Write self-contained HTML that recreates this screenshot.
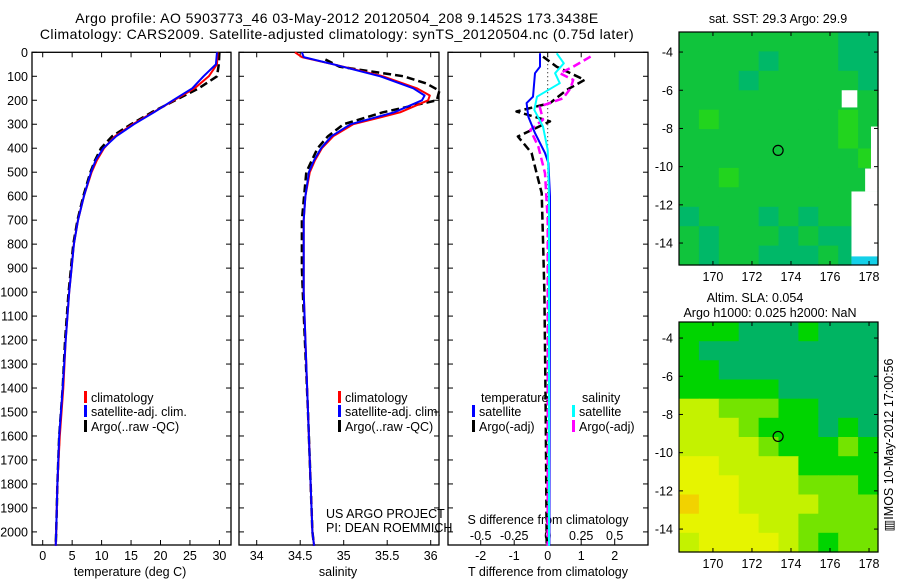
<!DOCTYPE html>
<html><head><meta charset="utf-8"><style>
body{margin:0;background:#fff}
svg{display:block;font-family:"Liberation Sans",Arial,sans-serif}
</style></head><body>
<svg id="c" width="900" height="580" viewBox="0 0 900 580">
<text x="337" y="23" font-size="14" letter-spacing="0.45" text-anchor="middle">Argo profile: AO 5903773_46 03-May-2012 20120504_208 9.1452S 173.3438E</text>
<text x="337" y="39" font-size="14" letter-spacing="0.45" text-anchor="middle">Climatology: CARS2009. Satellite-adjusted climatology: synTS_20120504.nc (0.75d later)</text>
<g id="g"></g>
</svg>
<script>
// ---- profile data ----
const depthT = [0,50,100,150,200,250,300,350,400,450,500,600,700,800,900,1000,1200,1400,1600,1800,2000,2058];
const tempClim = [29.7,29.6,28.2,25.8,22.3,18.8,15.3,12.3,10.4,9.2,8.3,7.0,6.0,5.3,4.9,4.5,3.9,3.5,2.9,2.5,2.3,2.2];
const tempSat  = [29.6,29.4,27.3,25.4,22.1,18.9,15.5,12.5,10.3,9.0,8.2,7.0,6.0,5.3,4.9,4.5,3.9,3.4,2.8,2.5,2.3,2.2];
const tempArgo = [30.0,29.9,29.6,26.5,22.5,18.5,15.0,11.8,9.9,8.9,8.1,6.9,5.9,5.2,4.8,4.4,3.8,3.4,2.8,2.5,2.3,2.2];
const depthS = [0,20,50,100,150,180,200,250,300,350,400,450,500,600,700,1000,1500,2000,2058];
const salClim = [34.44,34.52,34.88,35.45,35.84,35.99,35.97,35.65,35.11,34.88,34.75,34.67,34.61,34.56,34.54,34.54,34.59,34.64,34.66];
const salSat  = [34.52,34.54,34.88,35.42,35.80,35.93,35.90,35.58,35.08,34.86,34.74,34.66,34.60,34.56,34.54,34.54,34.59,34.64,34.66];
const depthSA = [30,60,100,130,160,200,250,300,350,400,500,700,900,1000,1500,2000,2058];
const salArgo = [34.79,34.95,35.69,35.95,36.10,36.07,35.45,35.00,34.82,34.70,34.57,34.52,34.52,34.53,34.59,34.64,34.66];
// ---- difference data ----
const depthDT = [4,60,87,185,212,268,337,420,462,600,1000,1500,2058];
const dTsat = [-0.23,-0.23,-0.38,-0.44,-0.63,-0.58,-0.38,-0.08,0.02,0.07,0.07,0.06,0.05];
const depthDS = [4,46,87,129,185,240,310,407,600,1000,1500,2058];
const dSsat = [0.067,0.12,0.055,0.09,-0.08,-0.1,-0.035,0,0.01,0.01,0.01,0.01];
const depthDTA = [18,60,115,157,212,247,288,351,420,504,587,782,1004,1500,2058];
const dTargo = [-0.14,0.27,1.1,0.57,0.07,-0.93,0.07,-0.89,-0.48,-0.33,-0.18,-0.14,-0.1,-0.06,-0.03];
const depthDSA = [18,60,87,115,150,192,226,281,323,393,504,700,1000,2058];
const dSargo = [0.32,0.19,0.09,0.19,0.17,0.115,-0.06,-0.035,-0.13,-0.07,-0.02,0,0,0];
// ---- ticks ----
const depthTicks = [0,100,200,300,400,500,600,700,800,900,1000,1100,1200,1300,1400,1500,1600,1700,1800,1900,2000];
const tempTicks = [0,5,10,15,20,25,30];
const salTicks = [34,34.5,35,35.5,36];
const dTTicks = [-2,-1,0,1,2];
const dSTicks = [-0.5,-0.25,0,0.25,0.5];
const lonTicks = [170,172,174,176,178];
const latTicks = [-4,-6,-8,-10,-12,-14];
// ---- maps (rows from north to south, cols west to east) ----
const sstGrid = [
[1,1,1,1,1,1,1,1,0,0],[1,1,1,1,0,1,1,1,0,0],[1,1,1,0,1,1,1,1,1,0],[1,1,1,1,1,1,1,1,1,1],
[1,2,1,1,1,1,1,1,2,1],[1,1,1,1,1,1,1,1,2,1],[1,1,1,1,1,1,1,1,1,2],[1,1,2,1,1,1,1,1,1,1],
[1,1,1,1,1,1,1,1,1,1],[0,1,1,1,0,1,0,1,1,1],[1,0,1,1,1,0,1,0,0,1],[1,0,1,1,0,0,0,1,0,1]];
const slaGrid = [
[1,1,1,0,0,0,1,0,0,0],[1,0,0,0,0,0,0,0,0,0],[1,1,0,0,0,0,0,0,0,0],[1,1,1,1,1,0,0,0,0,0],
[3,3,2,2,2,1,1,0,0,0],[3,3,3,2,1,1,1,0,1,0],[3,3,3,3,2,1,1,1,2,1],[4,4,3,3,3,3,1,1,1,1],
[4,4,4,3,3,3,2,2,2,1],[5,4,4,3,3,3,3,2,2,2],[4,4,4,4,3,3,2,2,2,2],[3,4,4,4,4,3,2,1,2,2]];
const sstColors = ['#00b868','#10c43c','#22d41e'];
const slaColors = ['#00b462','#00d400','#74e400','#c4f200','#e6f400','#f2d200'];

const NS='http://www.w3.org/2000/svg', G=document.getElementById('g');
function mk(t,a,p){const e=document.createElementNS(NS,t);for(const k in a)e.setAttribute(k,a[k]);(p||G).appendChild(e);return e;}
function txt(x,y,s,anchor,size,name){const e=mk('text',{x:x,y:y,'font-size':size||12.5,'text-anchor':anchor||'middle'});e.textContent=s;


return e;}
const yD=d=>52.3+d*0.2398;
const xT=t=>42.7+t*5.89, xS=s=>256.7+(s-34)*87, xdT=v=>547.7+v*33.5, xdS=v=>547.7+v*134;
const TOP=52.3, BOT=545;
function frame(x0,x1,name){const r=mk('rect',{x:x0,y:TOP,width:x1-x0,height:BOT-TOP,fill:'none',stroke:'#000','stroke-width':1.3});


depthTicks.forEach(d=>{mk('line',{x1:x0,x2:x0+5,y1:yD(d),y2:yD(d),stroke:'#000'});mk('line',{x1:x1-5,x2:x1,y1:yD(d),y2:yD(d),stroke:'#000'});});}
function line(xs,ds,fx,col,w,dash,name){const pts=xs.map((v,i)=>fx(v).toFixed(1)+','+yD(ds[i]).toFixed(1)).join(' ');
const a={points:pts,fill:'none',stroke:col,'stroke-width':w,'stroke-linejoin':'round'};if(dash)a['stroke-dasharray']=dash;
const e=mk('polyline',a);

}
function legend(x,y,col,label,name){mk('rect',{x:x,y:y-11,width:3,height:12,fill:col});txt(x+7,y,label,'start',12.5,name);}

// Panel 1
frame(32,231,'temperature-panel');
depthTicks.forEach(d=>txt(28,yD(d)+4.5,String(d),'end',12.5,'depth-tick-label'));
tempTicks.forEach(t=>{mk('line',{x1:xT(t),x2:xT(t),y1:TOP,y2:TOP+5,stroke:'#000'});mk('line',{x1:xT(t),x2:xT(t),y1:BOT-5,y2:BOT,stroke:'#000'});txt(xT(t),560,String(t),'middle',12.5,'temperature-tick-label');});
txt(130,576,'temperature (deg C)','middle',12.5,'temperature-axis-title');
line(tempArgo,depthT,xT,'#000',2.5,'8,4','temperature-argo-line');
line(tempClim,depthT,xT,'#f00',2,null,'temperature-climatology-line');
line(tempSat,depthT,xT,'#00f',2,null,'temperature-satellite-line');
legend(84,402,'#f00','climatology','legend-climatology');legend(84,416,'#00f','satellite-adj. clim.','legend-satellite-adj');legend(84,431,'#000','Argo(..raw -QC)','legend-argo');

// Panel 2
frame(239,439,'salinity-panel');
salTicks.forEach(s=>{mk('line',{x1:xS(s),x2:xS(s),y1:TOP,y2:TOP+5,stroke:'#000'});mk('line',{x1:xS(s),x2:xS(s),y1:BOT-5,y2:BOT,stroke:'#000'});txt(xS(s),560,String(s),'middle',12.5,'salinity-tick-label');});
txt(338,576,'salinity','middle',12.5,'salinity-axis-title');
line(salArgo,depthSA,xS,'#000',2.5,'8,4','salinity-argo-line');
line(salClim,depthS,xS,'#f00',2,null,'salinity-climatology-line');
line(salSat,depthS,xS,'#00f',2,null,'salinity-satellite-line');
legend(338,402,'#f00','climatology','legend-climatology');legend(338,416,'#00f','satellite-adj. clim.','legend-satellite-adj');legend(338,431,'#000','Argo(..raw -QC)','legend-argo');
txt(326,518,'US ARGO PROJECT','start',12.5,'credit-project');txt(326,532,'PI: DEAN ROEMMICH','start',12.5,'credit-pi');

// Panel 3
frame(448,648,'difference-panel');
dTTicks.forEach(v=>{mk('line',{x1:xdT(v),x2:xdT(v),y1:TOP,y2:TOP+5,stroke:'#000'});mk('line',{x1:xdT(v),x2:xdT(v),y1:BOT-5,y2:BOT,stroke:'#000'});txt(xdT(v),560,String(v),'middle',12.5,'t-diff-tick-label');});
dSTicks.forEach(v=>txt(xdS(v),540,String(v),'middle',12.5,'s-diff-tick-label'));
txt(548,524,'S difference from climatology','middle',12.5,'s-diff-axis-title');
txt(548,576,'T difference from climatology','middle',12.5,'t-diff-axis-title');
mk('line',{x1:547.7,x2:547.7,y1:TOP,y2:BOT,stroke:'#000','stroke-width':1,'stroke-dasharray':'1,3'});
line(dTargo,depthDTA,xdT,'#000',2.5,'8,4','t-diff-argo-line');
line(dSargo,depthDSA,xdS,'#f0f',2.5,'8,4','s-diff-argo-line');
line(dTsat,depthDT,xdT,'#00f',2,null,'t-diff-satellite-line');
line(dSsat,depthDS,xdS,'#0ff',2,null,'s-diff-satellite-line');
txt(481,402,'temperature','start',12.5,'legend-temperature-header');txt(582,402,'salinity','start',12.5,'legend-salinity-header');
legend(472,416,'#00f','satellite','legend-t-satellite');legend(472,431,'#000','Argo(-adj)','legend-t-argo');
legend(572,416,'#0ff','satellite','legend-s-satellite');legend(572,431,'#f0f','Argo(-adj)','legend-s-argo');

// Maps
function map(x0,y0,y1,grid,cols,latTop,latBot,name){
  const w=199,h=y1-y0,lon0=168.26,lon1=178.46;
  const X=l=>x0+(l-lon0)/(lon1-lon0)*w, Y=l=>y0+(latTop-l)/(latTop-latBot)*h;
  const g=mk('g',{});
  
  const nr=grid.length,nc=grid[0].length;
  grid.forEach((row,r)=>row.forEach((v,c)=>{mk('rect',{x:(x0+c*w/nc).toFixed(1),y:(y0+r*h/nr).toFixed(1),width:(w/nc+0.6).toFixed(1),height:(h/nr+0.6).toFixed(1),fill:cols[v]},g);}));
  return {g,X,Y,w,h};
}
function mapAxes(m,x0,y0,y1){
  mk('rect',{x:x0,y:y0,width:199,height:y1-y0,fill:'none',stroke:'#000','stroke-width':1.2});
  lonTicks.forEach(l=>{mk('line',{x1:m.X(l),x2:m.X(l),y1:y0,y2:y0+4,stroke:'#000'});mk('line',{x1:m.X(l),x2:m.X(l),y1:y1-4,y2:y1,stroke:'#000'});txt(m.X(l),y1+16,String(l),'middle',12.5,'longitude-tick-label');});
  latTicks.forEach(l=>{mk('line',{x1:x0,x2:x0+4,y1:m.Y(l),y2:m.Y(l),stroke:'#000'});mk('line',{x1:x0+195,x2:x0+199,y1:m.Y(l),y2:m.Y(l),stroke:'#000'});txt(x0-6,m.Y(l)+4.5,String(l),'end',12.5,'latitude-tick-label');});
  const c=mk('circle',{cx:m.X(173.34),cy:m.Y(-9.15),r:5,fill:'none',stroke:'#000','stroke-width':1.2});
  
  
}
const m1=map(679,32,265,sstGrid,sstColors,-2.95,-15.15,'sst-map');
[[176.6,-6.0,177.4,-6.9],[178.1,-7.9,178.5,-10.1],[177.8,-10.1,178.5,-11.3],[177.1,-11.3,178.5,-15.2]].forEach(p=>mk('rect',{x:m1.X(p[0]),y:m1.Y(p[1]),width:m1.X(p[2])-m1.X(p[0]),height:m1.Y(p[3])-m1.Y(p[1]),fill:'#fff'},m1.g));
mk('rect',{x:m1.X(177.1),y:m1.Y(-14.7),width:m1.X(178.46)-m1.X(177.1),height:m1.Y(-15.15)-m1.Y(-14.7),fill:'#14d0e8'},m1.g);
mapAxes(m1,679,32,265);
txt(778,23,'sat. SST: 29.3 Argo: 29.9','middle',12.5,'sst-map-title');
const m2=map(679,322,552,slaGrid,slaColors,-3.16,-15.2,'sla-map');
mapAxes(m2,679,322,552);
txt(755,302,'Altim. SLA: 0.054','middle',12.5,'sla-map-title');
txt(770,317,'Argo h1000: 0.025 h2000: NaN','middle',12.5,'sla-map-subtitle');
const r=txt(0,0,'▥IMOS 10-May-2012 17:00:56','middle',12.5,'timestamp-label');
r.setAttribute('transform','translate(893,445) rotate(-90)');
</script>
</body></html>
